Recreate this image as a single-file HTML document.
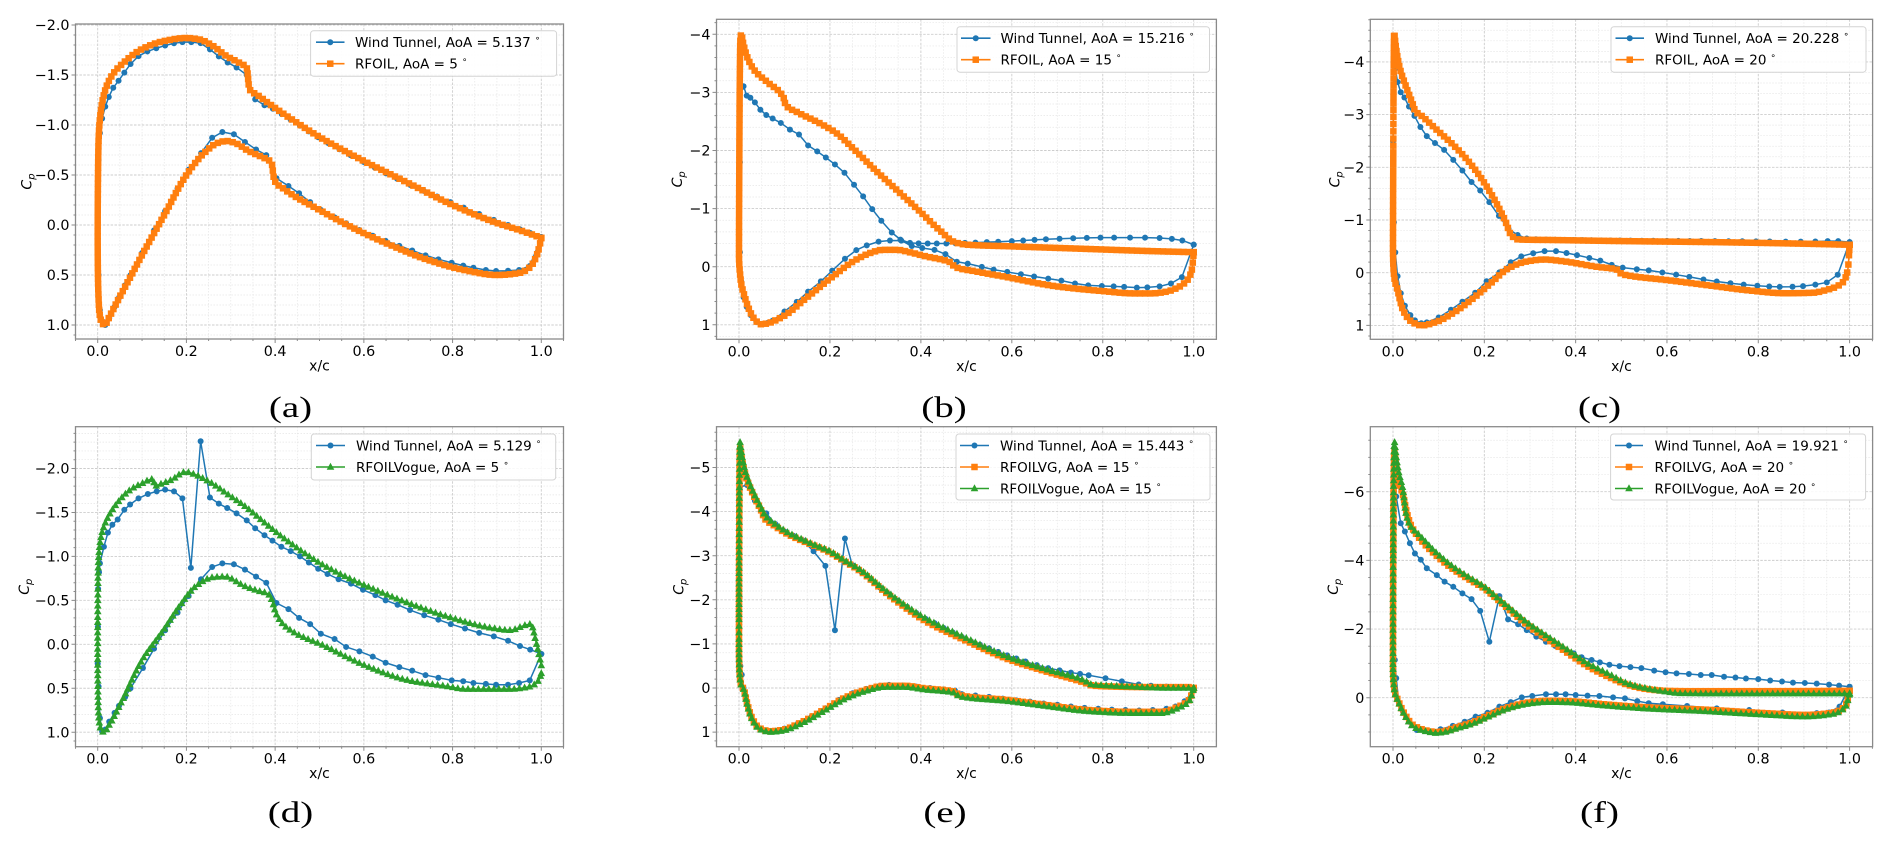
<!DOCTYPE html>
<html><head><meta charset="utf-8">
<style>
html,body{margin:0;padding:0;background:#fff;}
svg{display:block;}
</style></head>
<body>
<svg id="s" width="1892" height="849" viewBox="0 0 1892 849" xmlns="http://www.w3.org/2000/svg"></svg>
<script>
const FAM="'DejaVu Sans','Liberation Sans',sans-serif";
const FS=13.5, TFS=14.3;
const COL={b:'#1f77b4',o:'#ff7f0e',g:'#2ca02c'};
let S='';
const r2=n=>Math.round(n*100)/100;
function txt(x,y,inner,o){o=o||{};
 S+=`<text transform="translate(${r2(x)},${r2(y)})${o.sx?' scale('+o.sx+',1)':''}${o.rot?' rotate('+o.rot+')':''}" font-family="${o.fam||FAM}" font-size="${o.size||FS}" text-anchor="${o.anchor||'start'}" fill="#000">${inner}</text>`;}
function endSlope(h0,h1,d0,d1){let m=((2*h0+h1)*d0-h0*d1)/(h0+h1);
 if(Math.sign(m)!=Math.sign(d0)) m=0; else if(Math.sign(d0)!=Math.sign(d1)&&Math.abs(m)>Math.abs(3*d0)) m=3*d0; return m;}
function pchip(xs,ys){const n=xs.length,h=[],d=[];
 for(let i=0;i<n-1;i++){h[i]=xs[i+1]-xs[i];d[i]=(ys[i+1]-ys[i])/h[i];}
 const m=new Array(n).fill(0);
 for(let i=1;i<n-1;i++){ if(d[i-1]*d[i]<=0) m[i]=0; else {const w1=2*h[i]+h[i-1],w2=h[i]+2*h[i-1]; m[i]=(w1+w2)/(w1/d[i-1]+w2/d[i]);} }
 m[0]=endSlope(h[0],h[1],d[0],d[1]); m[n-1]=endSlope(h[n-2],h[n-3],d[n-2],d[n-3]);
 return function(x){ if(x<=xs[0]) return ys[0]; if(x>=xs[n-1]) return ys[n-1];
  let lo=0,hi=n-1; while(hi-lo>1){const mid=(lo+hi)>>1; if(xs[mid]<=x) lo=mid; else hi=mid;}
  const t=(x-xs[lo])/h[lo],t2=t*t,t3=t2*t;
  return (2*t3-3*t2+1)*ys[lo]+(t3-2*t2+t)*h[lo]*m[lo]+(-2*t3+3*t2)*ys[lo+1]+(t3-t2)*h[lo]*m[lo+1];};}
function surf(c){return pchip(c.map(p=>Math.sqrt(p[0])),c.map(p=>p[1]));}
function mk(t,x,y){
 if(t=='o') return `<circle cx="${r2(x)}" cy="${r2(y)}" r="3"/>`;
 if(t=='s') return `<rect x="${r2(x-3.25)}" y="${r2(y-3.25)}" width="6.5" height="6.5"/>`;
 return `<path d="M${r2(x)} ${r2(y-4.2)}L${r2(x+3.8)} ${r2(y+2.8)}L${r2(x-3.8)} ${r2(y+2.8)}Z"/>`;}
function resample(pts,D){const res=[pts[0]];let acc=0;
 for(let i=1;i<pts.length;i++){acc+=Math.hypot(pts[i][0]-pts[i-1][0],pts[i][1]-pts[i-1][1]); if(acc>=D){res.push(pts[i]);acc=0;}}
 res.push(pts[pts.length-1]); return res;}
function pathD(p){return 'M'+p.map(q=>r2(q[0])+' '+r2(q[1])).join('L');}
const WU=[0,0.002,0.005,0.01,0.017,0.025,0.035,0.047,0.06,0.074,0.092,0.112,0.132,0.152,0.172,0.191,0.211,0.232,0.253,0.273,0.293,0.313,0.336,0.355,0.376,0.395,0.415,0.435,0.456,0.476,0.497,0.52,0.545,0.57,0.6,0.625,0.65,0.675,0.705,0.735,0.765,0.795,0.825,0.86,0.893,0.925,0.952,0.975,1.0];
const WL=[0.002,0.005,0.01,0.017,0.026,0.038,0.048,0.062,0.074,0.1,0.127,0.152,0.18,0.205,0.233,0.258,0.281,0.307,0.332,0.357,0.38,0.403,0.43,0.454,0.479,0.503,0.534,0.56,0.59,0.62,0.649,0.68,0.709,0.739,0.768,0.798,0.824,0.847,0.875,0.898,0.925,0.95,0.974,1.0];
function drawRF(P,s){const fu=surf(s.U),fl=surf(s.L),N=3000,pts=[];
 for(let i=N;i>=0;i--){const u=i/N;pts.push([P.X(u*u),P.Y(fu(u))]);}
 for(let i=1;i<=N;i++){const u=i/N;pts.push([P.X(u*u),P.Y(fl(u))]);}
 const line=resample(pts,1.5), mks=resample(pts,5);
 S+=`<path d="${pathD(line)}" stroke="${COL[s.c]}" stroke-width="1.6" fill="none" stroke-linejoin="round"/>`;
 S+=`<g fill="${COL[s.c]}">${mks.map(p=>mk(s.m,p[0],p[1])).join('')}</g>`;}
function drawWT(P,s){let up,lo;
 if(s.explicit){up=s.U;lo=s.L;}
 else{const fu=surf(s.U),fl=surf(s.L);up=WU.map(x=>[x,fu(Math.sqrt(x))]);lo=WL.map(x=>[x,fl(Math.sqrt(x))]);}
 const pts=up.slice().reverse().concat(lo).map(p=>[P.X(p[0]),P.Y(p[1])]);
 S+=`<path d="${pathD(pts)}" stroke="${COL.b}" stroke-width="1.5" fill="none" stroke-linejoin="round"/>`;
 S+=`<g fill="${COL.b}">${pts.map(p=>mk('o',p[0],p[1])).join('')}</g>`;}
function fmt(v,dec){let s=dec?v.toFixed(1):String(Math.round(v)); if(s=='-0'||s=='-0.0') s=s.slice(1); return s.replace('-','\u2212');}
function legend(Lg){
 S+=`<rect x="${Lg.x}" y="${Lg.y}" width="${Lg.w}" height="${Lg.h}" rx="3" fill="#fff" fill-opacity="0.85" stroke="#d4d4d4" stroke-width="1"/>`;
 Lg.rows.forEach((r,i)=>{const cy=Lg.y+11.5+21.5*i;
  S+=`<line x1="${Lg.hx0}" y1="${cy}" x2="${Lg.hx1}" y2="${cy}" stroke="${COL[r.c]}" stroke-width="1.6"/>`;
  S+=`<g fill="${COL[r.c]}">${mk(r.m,(Lg.hx0+Lg.hx1)/2,cy)}</g>`;
  txt(Lg.tx,cy+4.9,`${r.t}<tspan font-size="9" dx="4" dy="-6">\u2218</tspan>`);});}
function panel(P,id){
 P.X=x=>P.x0+(P.x1-P.x0)*x; P.Y=c=>P.y0+P.ky*c;
 const cTop=(P.T-P.y0)/P.ky,cBot=(P.B-P.y0)/P.ky;
 const isMaj=v=>P.ymaj.some(m=>Math.abs(m-v)<1e-6);
 let g='',G='';
 for(let k=-1;k<=21;k++){const v=k*0.05,px=P.X(v); if(px<P.L||px>P.R) continue; if(k%4==0) G+=`M${r2(px)} ${P.T}V${P.B}`; else g+=`M${r2(px)} ${P.T}V${P.B}`;}
 const st=P.ymin,n0=Math.ceil(cTop/st-1e-6),n1=Math.floor(cBot/st+1e-6);
 for(let k=n0;k<=n1;k++){const v=k*st,py=r2(P.Y(v)); if(isMaj(v)) G+=`M${P.L} ${py}H${P.R}`; else g+=`M${P.L} ${py}H${P.R}`;}
 S+=`<path d="${g}" stroke="#e6e6e6" stroke-width="0.7" stroke-dasharray="1.5,1.5" fill="none"/>`;
 S+=`<path d="${G}" stroke="#cdcdcd" stroke-width="0.9" stroke-dasharray="2.5,1.4" fill="none"/>`;
 S+=`<clipPath id="${id}"><rect x="${P.L}" y="${P.T}" width="${P.R-P.L}" height="${P.B-P.T}"/></clipPath><g clip-path="url(#${id})">`;
 P.series.forEach(s=>{ if(s.wt) drawWT(P,s); else drawRF(P,s); });
 S+='</g>';
 S+=`<rect x="${P.L}" y="${P.T}" width="${P.R-P.L}" height="${P.B-P.T}" fill="none" stroke="#8a8a8a" stroke-width="1.3"/>`;
 let t='';
 for(let k=-1;k<=21;k++){const v=k*0.05,px=P.X(v); if(px<P.L||px>P.R) continue; t+=`M${r2(px)} ${P.B}V${P.B+(k%4==0?4:2)}`;}
 for(let k=n0;k<=n1;k++){const v=k*st,py=r2(P.Y(v)); t+=`M${P.L} ${py}H${P.L-(isMaj(v)?4:2)}`;}
 S+=`<path d="${t}" stroke="#8a8a8a" stroke-width="1" fill="none"/>`;
 P.ymaj.forEach(v=>txt(P.L-6,P.Y(v)+5.1,fmt(v,P.dec),{anchor:'end',size:TFS}));
 [0,0.2,0.4,0.6,0.8,1.0].forEach(v=>txt(P.X(v),P.B+17,v.toFixed(1),{anchor:'middle',size:TFS}));
 txt((P.L+P.R)/2,P.B+31.5,'x/c',{anchor:'middle',size:14});
 txt(P.ylabX+4.5,(P.T+P.B)/2,`<tspan font-style="italic">C</tspan><tspan font-style="italic" font-size="10" dy="3">p</tspan>`,{anchor:'middle',rot:-90,size:14});
 legend(P.leg);
 txt(P.capX,P.capY,P.cap,{anchor:'middle',size:30,sx:1.3,fam:"'Liberation Serif',serif"});
}
// ---------- DATA ----------
const A={L:75.5,T:24,R:563.5,B:339,x0:97.7,x1:541.3,y0:225,ky:100,ymaj:[-2,-1.5,-1,-0.5,0,0.5,1],ymin:0.1,dec:1,ylabX:27,cap:'(a)',capX:290.5,capY:417,
 leg:{x:310.6,y:30.7,w:246,h:45.5,hx0:316,hx1:344.5,tx:355,rows:[{c:'b',m:'o',t:'Wind Tunnel, AoA = 5.137'},{c:'o',m:'s',t:'RFOIL, AoA = 5'}]},
 series:[
 {wt:1,U:[[0,0.2],[0.002,-0.65],[0.005,-0.92],[0.013,-1.12],[0.025,-1.28],[0.036,-1.38],[0.045,-1.43],[0.061,-1.53],[0.089,-1.68],[0.134,-1.77],[0.198,-1.83],[0.23,-1.82],[0.255,-1.75],[0.275,-1.68],[0.295,-1.62],[0.315,-1.57],[0.336,-1.5],[0.35,-1.28],[0.4,-1.15],[0.45,-1.01],[0.5,-0.87],[0.6,-0.63],[0.7,-0.41],[0.8,-0.22],[0.9,-0.04],[0.95,0.04],[1.0,0.12]],
  L:[[0,0.2],[0.002,0.5],[0.005,0.85],[0.01,0.96],[0.017,1.0],[0.026,0.93],[0.04,0.8],[0.06,0.62],[0.08,0.45],[0.1,0.28],[0.13,0.03],[0.16,-0.2],[0.2,-0.52],[0.24,-0.76],[0.26,-0.88],[0.28,-0.93],[0.3,-0.92],[0.32,-0.87],[0.35,-0.77],[0.378,-0.71],[0.4,-0.48],[0.42,-0.42],[0.45,-0.33],[0.5,-0.16],[0.55,-0.04],[0.6,0.07],[0.65,0.16],[0.7,0.24],[0.75,0.32],[0.8,0.38],[0.85,0.43],[0.9,0.46],[0.95,0.45],[0.974,0.41],[1.0,0.12]]},
 {c:'o',m:'s',U:[[0,0.1],[0.0005,-0.4],[0.002,-0.85],[0.006,-1.1],[0.015,-1.32],[0.03,-1.48],[0.06,-1.63],[0.1,-1.76],[0.15,-1.84],[0.2,-1.87],[0.23,-1.855],[0.26,-1.79],[0.29,-1.69],[0.32,-1.62],[0.336,-1.57],[0.342,-1.36],[0.36,-1.3],[0.4,-1.17],[0.45,-1.02],[0.5,-0.88],[0.6,-0.64],[0.7,-0.42],[0.8,-0.2],[0.9,-0.02],[0.95,0.05],[1.0,0.13]],
  L:[[0,0.1],[0.001,0.6],[0.004,0.88],[0.01,0.98],[0.016,1.0],[0.025,0.93],[0.04,0.8],[0.07,0.55],[0.1,0.3],[0.15,-0.1],[0.2,-0.5],[0.24,-0.72],[0.27,-0.82],[0.29,-0.84],[0.31,-0.82],[0.34,-0.74],[0.37,-0.68],[0.392,-0.62],[0.398,-0.45],[0.42,-0.36],[0.5,-0.15],[0.585,0.05],[0.665,0.21],[0.745,0.35],[0.826,0.45],[0.9,0.5],[0.95,0.48],[0.975,0.42],[0.99,0.3],[1.0,0.13]]}
 ]};
const B={L:716.5,T:19.3,R:1216.4,B:339.3,x0:739,x1:1193.7,y0:266.7,ky:58.1,ymaj:[-4,-3,-2,-1,0,1],ymin:0.2,dec:0,ylabX:677.5,cap:'(b)',capX:944,capY:417,
 leg:{x:957,y:26.7,w:252.5,h:45.5,hx0:961,hx1:990.5,tx:1000.5,rows:[{c:'b',m:'o',t:'Wind Tunnel, AoA = 15.216'},{c:'o',m:'s',t:'RFOIL, AoA = 15'}]},
 series:[
 {wt:1,U:[[0,-0.75],[0.002,-1.8],[0.004,-2.8],[0.006,-3.21],[0.016,-2.95],[0.023,-2.92],[0.038,-2.8],[0.045,-2.72],[0.06,-2.61],[0.074,-2.55],[0.095,-2.46],[0.112,-2.36],[0.133,-2.27],[0.153,-2.08],[0.173,-1.98],[0.191,-1.88],[0.211,-1.76],[0.234,-1.6],[0.253,-1.41],[0.273,-1.21],[0.293,-0.99],[0.312,-0.8],[0.332,-0.62],[0.354,-0.47],[0.375,-0.41],[0.4,-0.4],[0.45,-0.4],[0.5,-0.41],[0.6,-0.44],[0.7,-0.48],[0.8,-0.5],[0.9,-0.5],[0.95,-0.48],[0.97,-0.46],[1.0,-0.38]],
  L:[[0,-0.75],[0.002,-0.25],[0.004,0.15],[0.008,0.45],[0.015,0.65],[0.025,0.82],[0.035,0.93],[0.048,0.99],[0.062,0.97],[0.08,0.9],[0.1,0.77],[0.128,0.6],[0.152,0.43],[0.179,0.26],[0.206,0.06],[0.232,-0.13],[0.259,-0.29],[0.282,-0.37],[0.306,-0.43],[0.331,-0.45],[0.354,-0.45],[0.37,-0.44],[0.383,-0.34],[0.406,-0.32],[0.43,-0.29],[0.453,-0.22],[0.477,-0.09],[0.505,-0.05],[0.532,0.0],[0.56,0.05],[0.59,0.09],[0.62,0.13],[0.65,0.17],[0.676,0.2],[0.709,0.24],[0.74,0.29],[0.766,0.32],[0.83,0.34],[0.88,0.36],[0.935,0.33],[0.955,0.27],[0.974,0.18],[1.0,-0.38]]},
 {c:'o',m:'s',U:[[0,-0.2],[0.0005,-1.5],[0.0015,-3.0],[0.003,-3.9],[0.005,-4.0],[0.009,-3.85],[0.018,-3.61],[0.033,-3.39],[0.065,-3.16],[0.097,-2.93],[0.103,-2.78],[0.128,-2.66],[0.175,-2.48],[0.214,-2.3],[0.253,-2.02],[0.3,-1.66],[0.347,-1.32],[0.394,-0.98],[0.441,-0.63],[0.475,-0.42],[0.5,-0.38],[0.6,-0.35],[0.75,-0.31],[0.9,-0.27],[1.0,-0.25]],
  L:[[0,-0.2],[0.002,0.1],[0.005,0.3],[0.01,0.45],[0.018,0.65],[0.026,0.8],[0.037,0.93],[0.048,0.99],[0.06,0.98],[0.096,0.86],[0.151,0.52],[0.206,0.17],[0.253,-0.1],[0.29,-0.24],[0.316,-0.29],[0.347,-0.29],[0.38,-0.24],[0.41,-0.18],[0.457,-0.1],[0.466,-0.07],[0.474,0.0],[0.52,0.08],[0.583,0.17],[0.7,0.34],[0.8,0.42],[0.87,0.46],[0.907,0.46],[0.94,0.43],[0.962,0.37],[0.986,0.23],[0.996,0.05],[1.0,-0.25]]}
 ]};
const C={L:1370.3,T:19.3,R:1872.6,B:339.3,x0:1393,x1:1849.6,y0:272.7,ky:52.7,ymaj:[-4,-3,-2,-1,0,1],ymin:0.2,dec:0,ylabX:1335,cap:'(c)',capX:1599.5,capY:417,
 leg:{x:1611,y:26.7,w:255,h:45.5,hx0:1615.5,hx1:1644,tx:1655,rows:[{c:'b',m:'o',t:'Wind Tunnel, AoA = 20.228'},{c:'o',m:'s',t:'RFOIL, AoA = 20'}]},
 series:[
 {wt:1,U:[[0,-2.5],[0.001,-3.2],[0.002,-4.04],[0.008,-3.7],[0.015,-3.46],[0.026,-3.31],[0.037,-3.12],[0.046,-2.99],[0.072,-2.61],[0.092,-2.46],[0.112,-2.33],[0.132,-2.14],[0.151,-1.95],[0.171,-1.73],[0.19,-1.57],[0.21,-1.35],[0.231,-1.09],[0.252,-0.84],[0.272,-0.72],[0.3,-0.64],[0.4,-0.62],[0.5,-0.61],[0.7,-0.6],[0.9,-0.59],[0.97,-0.6],[1.0,-0.58]],
  L:[[0,-2.5],[0.001,-1.3],[0.003,-0.73],[0.006,-0.26],[0.009,0.0],[0.017,0.39],[0.035,0.77],[0.061,0.96],[0.08,0.93],[0.104,0.83],[0.131,0.68],[0.157,0.52],[0.183,0.36],[0.204,0.17],[0.235,-0.02],[0.26,-0.21],[0.284,-0.32],[0.307,-0.37],[0.331,-0.41],[0.354,-0.41],[0.382,-0.37],[0.405,-0.33],[0.43,-0.28],[0.45,-0.24],[0.475,-0.16],[0.5,-0.1],[0.53,-0.07],[0.565,-0.04],[0.6,0.01],[0.65,0.08],[0.687,0.14],[0.73,0.19],[0.773,0.23],[0.82,0.26],[0.853,0.27],[0.89,0.26],[0.922,0.23],[0.948,0.19],[0.97,0.08],[1.0,-0.58]]},
 {c:'o',m:'s',U:[[0,-0.5],[0.0005,-2.0],[0.0012,-3.5],[0.0025,-4.54],[0.006,-4.3],[0.014,-3.91],[0.026,-3.59],[0.037,-3.34],[0.044,-3.18],[0.048,-3.08],[0.065,-2.96],[0.096,-2.71],[0.136,-2.39],[0.175,-2.01],[0.214,-1.51],[0.245,-1.0],[0.26,-0.7],[0.275,-0.63],[0.35,-0.62],[0.5,-0.6],[0.7,-0.58],[0.9,-0.55],[1.0,-0.53]],
  L:[[0,-0.5],[0.001,-0.1],[0.004,0.15],[0.01,0.33],[0.022,0.71],[0.041,0.93],[0.063,1.0],[0.096,0.93],[0.136,0.74],[0.175,0.49],[0.214,0.2],[0.252,-0.08],[0.291,-0.21],[0.331,-0.25],[0.37,-0.22],[0.448,-0.11],[0.49,-0.06],[0.5,0.02],[0.52,0.06],[0.6,0.14],[0.7,0.25],[0.773,0.33],[0.86,0.39],[0.92,0.38],[0.948,0.33],[0.983,0.2],[0.996,-0.05],[1.0,-0.53]]}
 ]};
const D={L:75.5,T:426.7,R:563.5,B:746.7,x0:97.7,x1:541.3,y0:644.3,ky:87.9,ymaj:[-2,-1.5,-1,-0.5,0,0.5,1],ymin:0.1,dec:1,ylabX:24.5,cap:'(d)',capX:290.5,capY:822,
 leg:{x:311.3,y:434,w:244.4,h:46,hx0:316,hx1:345,tx:356,rows:[{c:'b',m:'o',t:'Wind Tunnel, AoA = 5.129'},{c:'g',m:'^',t:'RFOILVogue, AoA = 5'}]},
 series:[
 {wt:1,explicit:1,U:[[0,0.22],[0.0005,-0.2],[0.001,-0.63],[0.003,-0.82],[0.005,-0.92],[0.014,-1.11],[0.023,-1.27],[0.033,-1.36],[0.045,-1.42],[0.06,-1.53],[0.073,-1.59],[0.092,-1.66],[0.113,-1.71],[0.133,-1.74],[0.152,-1.76],[0.172,-1.74],[0.191,-1.66],[0.21,-0.87],[0.232,-2.31],[0.253,-1.67],[0.273,-1.6],[0.292,-1.55],[0.313,-1.49],[0.336,-1.41],[0.355,-1.32],[0.376,-1.24],[0.394,-1.18],[0.414,-1.11],[0.435,-1.06],[0.456,-1.0],[0.476,-0.93],[0.497,-0.86],[0.518,-0.8],[0.543,-0.74],[0.571,-0.69],[0.598,-0.62],[0.626,-0.56],[0.649,-0.5],[0.676,-0.45],[0.704,-0.39],[0.736,-0.33],[0.768,-0.28],[0.796,-0.23],[0.828,-0.18],[0.86,-0.13],[0.893,-0.09],[0.925,-0.04],[0.952,0.02],[0.975,0.06],[1.0,0.11]],
  L:[[0.002,0.48],[0.005,0.84],[0.01,0.99],[0.017,0.97],[0.026,0.88],[0.038,0.78],[0.048,0.7],[0.062,0.6],[0.074,0.5],[0.102,0.27],[0.127,0.05],[0.152,-0.16],[0.18,-0.36],[0.205,-0.55],[0.233,-0.74],[0.258,-0.88],[0.281,-0.92],[0.307,-0.91],[0.332,-0.85],[0.357,-0.77],[0.38,-0.7],[0.403,-0.47],[0.43,-0.4],[0.454,-0.3],[0.479,-0.23],[0.503,-0.12],[0.534,-0.06],[0.56,0.03],[0.59,0.08],[0.62,0.14],[0.649,0.21],[0.68,0.26],[0.709,0.3],[0.739,0.35],[0.768,0.38],[0.798,0.41],[0.824,0.42],[0.847,0.44],[0.875,0.45],[0.898,0.46],[0.925,0.46],[0.95,0.44],[0.974,0.41],[1.0,0.11]]},
 {c:'g',m:'^',U:[[0,0.0],[0.0003,-0.5],[0.001,-0.85],[0.003,-1.05],[0.006,-1.18],[0.014,-1.34],[0.028,-1.49],[0.046,-1.62],[0.074,-1.76],[0.1,-1.83],[0.125,-1.88],[0.129,-1.8],[0.14,-1.82],[0.166,-1.87],[0.198,-1.96],[0.22,-1.93],[0.24,-1.88],[0.258,-1.83],[0.295,-1.7],[0.332,-1.57],[0.377,-1.38],[0.424,-1.19],[0.516,-0.88],[0.607,-0.66],[0.7,-0.47],[0.792,-0.31],[0.883,-0.19],[0.93,-0.16],[0.966,-0.22],[0.977,-0.23],[0.987,-0.05],[1.0,0.24]],
  L:[[0,0.0],[0.0005,0.5],[0.002,0.8],[0.006,0.95],[0.014,1.0],[0.028,0.9],[0.056,0.63],[0.1,0.18],[0.148,-0.16],[0.184,-0.43],[0.221,-0.66],[0.258,-0.76],[0.286,-0.77],[0.332,-0.66],[0.36,-0.61],[0.385,-0.57],[0.393,-0.5],[0.402,-0.35],[0.424,-0.2],[0.516,0.03],[0.607,0.25],[0.7,0.41],[0.79,0.48],[0.83,0.51],[0.929,0.51],[0.975,0.48],[0.994,0.41],[1.0,0.33]]}
 ]};
const E={L:716.5,T:426.7,R:1216.4,B:746.7,x0:739,x1:1193.7,y0:688,ky:44.1,ymaj:[-5,-4,-3,-2,-1,0,1],ymin:0.2,dec:0,ylabX:679,cap:'(e)',capX:945,capY:822,
 leg:{x:956,y:434,w:254,h:66,hx0:960,hx1:989,tx:1000,rows:[{c:'b',m:'o',t:'Wind Tunnel, AoA = 15.443'},{c:'o',m:'s',t:'RFOILVG, AoA = 15'},{c:'g',m:'^',t:'RFOILVogue, AoA = 15'}]},
 series:[
 {wt:1,explicit:1,U:[[0,-0.75],[0.001,-2.05],[0.002,-4.56],[0.018,-4.6],[0.035,-4.25],[0.06,-3.96],[0.08,-3.72],[0.1,-3.55],[0.12,-3.45],[0.14,-3.35],[0.164,-3.1],[0.19,-2.77],[0.211,-1.31],[0.233,-3.39],[0.249,-2.79],[0.27,-2.62],[0.29,-2.45],[0.31,-2.28],[0.33,-2.13],[0.35,-1.98],[0.37,-1.84],[0.39,-1.7],[0.41,-1.57],[0.43,-1.47],[0.45,-1.36],[0.47,-1.26],[0.49,-1.16],[0.51,-1.06],[0.53,-0.98],[0.55,-0.9],[0.57,-0.82],[0.59,-0.74],[0.61,-0.67],[0.63,-0.6],[0.655,-0.52],[0.68,-0.45],[0.705,-0.4],[0.73,-0.35],[0.75,-0.32],[0.769,-0.29],[0.806,-0.22],[0.842,-0.15],[0.879,-0.08],[0.906,-0.05],[0.94,-0.03],[0.97,-0.01],[1.0,0.05]],
  L:[[0.003,-0.5],[0.006,-0.3],[0.01,0.0],[0.015,0.25],[0.025,0.6],[0.04,0.85],[0.06,0.97],[0.08,0.97],[0.1,0.92],[0.13,0.8],[0.16,0.64],[0.19,0.46],[0.22,0.27],[0.25,0.12],[0.28,0.02],[0.31,-0.05],[0.33,-0.07],[0.36,-0.06],[0.39,-0.03],[0.42,0.0],[0.45,0.03],[0.475,0.06],[0.49,0.14],[0.52,0.17],[0.55,0.2],[0.58,0.24],[0.61,0.28],[0.64,0.31],[0.67,0.35],[0.7,0.38],[0.73,0.42],[0.76,0.45],[0.79,0.47],[0.82,0.49],[0.85,0.5],[0.88,0.51],[0.91,0.5],[0.94,0.47],[0.96,0.42],[0.98,0.3],[1.0,0.05]]},
 {c:'o',m:'s',U:[[0,-1.0],[0.0003,-3.0],[0.001,-4.7],[0.002,-5.45],[0.004,-5.35],[0.007,-5.15],[0.015,-4.8],[0.033,-4.35],[0.05,-4.0],[0.056,-3.85],[0.078,-3.68],[0.105,-3.5],[0.141,-3.33],[0.177,-3.18],[0.195,-3.1],[0.231,-2.88],[0.267,-2.65],[0.321,-2.18],[0.365,-1.83],[0.41,-1.52],[0.5,-1.07],[0.59,-0.66],[0.68,-0.36],[0.76,-0.12],[0.775,-0.06],[0.8,-0.04],[0.9,-0.02],[0.99,-0.02],[1.0,0.0]],
  L:[[0,-1.0],[0.001,-0.4],[0.004,-0.1],[0.011,0.05],[0.018,0.35],[0.029,0.69],[0.045,0.91],[0.07,0.98],[0.096,0.95],[0.141,0.76],[0.186,0.5],[0.231,0.23],[0.276,0.05],[0.321,-0.05],[0.365,-0.05],[0.41,0.01],[0.473,0.08],[0.485,0.16],[0.59,0.27],[0.68,0.39],[0.769,0.5],[0.859,0.54],[0.93,0.54],[0.967,0.42],[0.99,0.27],[1.0,0.0]]},
 {c:'g',m:'^',U:[[0,-1.0],[0.0003,-3.0],[0.001,-4.8],[0.002,-5.58],[0.004,-5.45],[0.007,-5.24],[0.015,-4.87],[0.033,-4.41],[0.051,-4.04],[0.056,-3.93],[0.078,-3.73],[0.105,-3.54],[0.141,-3.36],[0.177,-3.2],[0.195,-3.13],[0.231,-2.9],[0.267,-2.68],[0.321,-2.22],[0.365,-1.88],[0.41,-1.58],[0.5,-1.13],[0.59,-0.71],[0.68,-0.41],[0.76,-0.17],[0.775,-0.08],[0.8,-0.06],[0.86,-0.03],[0.95,0.0],[1.0,0.0]],
  L:[[0,-1.0],[0.001,-0.4],[0.004,-0.1],[0.011,0.05],[0.018,0.37],[0.029,0.71],[0.045,0.93],[0.07,1.0],[0.096,0.97],[0.141,0.79],[0.186,0.53],[0.231,0.26],[0.276,0.08],[0.321,-0.02],[0.365,-0.02],[0.41,0.04],[0.473,0.11],[0.485,0.19],[0.59,0.3],[0.68,0.42],[0.769,0.53],[0.859,0.57],[0.93,0.57],[0.967,0.45],[0.99,0.3],[1.0,0.0]]}
 ]};
const F={L:1370.3,T:426.7,R:1872.6,B:746.7,x0:1393,x1:1849.6,y0:697.7,ky:34.33,ymaj:[-6,-4,-2,0],ymin:0.5,dec:0,ylabX:1333.5,cap:'(f)',capX:1599.5,capY:822,
 leg:{x:1610.6,y:434,w:255,h:66,hx0:1615,hx1:1643,tx:1654.5,rows:[{c:'b',m:'o',t:'Wind Tunnel, AoA = 19.921'},{c:'o',m:'s',t:'RFOILVG, AoA = 20'},{c:'g',m:'^',t:'RFOILVogue, AoA = 20'}]},
 series:[
 {wt:1,explicit:1,U:[[0,-1.75],[0.001,-2.6],[0.002,-6.0],[0.007,-5.86],[0.017,-5.08],[0.026,-4.84],[0.037,-4.5],[0.048,-4.2],[0.061,-4.02],[0.074,-3.77],[0.096,-3.57],[0.113,-3.38],[0.132,-3.23],[0.152,-3.04],[0.172,-2.87],[0.191,-2.53],[0.211,-1.63],[0.233,-2.96],[0.252,-2.28],[0.274,-2.14],[0.293,-1.97],[0.314,-1.78],[0.335,-1.63],[0.355,-1.51],[0.374,-1.41],[0.396,-1.29],[0.413,-1.18],[0.435,-1.1],[0.453,-1.03],[0.474,-0.96],[0.496,-0.92],[0.52,-0.89],[0.544,-0.86],[0.572,-0.79],[0.597,-0.74],[0.621,-0.71],[0.648,-0.69],[0.674,-0.66],[0.698,-0.66],[0.725,-0.61],[0.75,-0.59],[0.773,-0.56],[0.8,-0.54],[0.826,-0.5],[0.852,-0.47],[0.876,-0.44],[0.902,-0.43],[0.928,-0.41],[0.955,-0.38],[0.977,-0.35],[1.0,-0.32]],
  L:[[0.004,-1.1],[0.007,-0.57],[0.013,0.16],[0.022,0.41],[0.035,0.7],[0.052,0.94],[0.078,0.99],[0.104,0.92],[0.131,0.82],[0.157,0.7],[0.181,0.55],[0.207,0.44],[0.233,0.26],[0.258,0.13],[0.282,-0.01],[0.305,-0.05],[0.335,-0.1],[0.357,-0.1],[0.378,-0.1],[0.4,-0.08],[0.426,-0.06],[0.452,-0.05],[0.482,-0.01],[0.508,0.02],[0.535,0.1],[0.56,0.16],[0.591,0.19],[0.644,0.24],[0.709,0.31],[0.78,0.36],[0.853,0.43],[0.928,0.45],[0.955,0.43],[0.978,0.26],[1.0,-0.32]]},
 {c:'o',m:'s',U:[[0,-1.0],[0.0005,-4.0],[0.0015,-6.3],[0.003,-7.2],[0.007,-6.8],[0.013,-6.3],[0.022,-5.9],[0.03,-5.4],[0.04,-5.0],[0.061,-4.6],[0.096,-4.13],[0.131,-3.75],[0.165,-3.46],[0.2,-3.18],[0.226,-2.9],[0.252,-2.6],[0.296,-2.1],[0.339,-1.7],[0.383,-1.3],[0.426,-0.92],[0.47,-0.62],[0.513,-0.38],[0.556,-0.25],[0.6,-0.2],[0.65,-0.19],[0.8,-0.19],[1.0,-0.2]],
  L:[[0,-1.0],[0.001,-0.5],[0.005,-0.1],[0.01,0.05],[0.026,0.49],[0.044,0.8],[0.078,0.97],[0.095,1.0],[0.11,0.98],[0.139,0.86],[0.174,0.72],[0.208,0.52],[0.252,0.28],[0.296,0.14],[0.339,0.09],[0.383,0.1],[0.47,0.2],[0.556,0.28],[0.687,0.35],[0.817,0.45],[0.904,0.5],[0.965,0.43],[0.99,0.25],[1.0,-0.2]]},
 {c:'g',m:'^',U:[[0,-1.0],[0.0005,-4.0],[0.0015,-6.5],[0.003,-7.46],[0.007,-7.02],[0.013,-6.54],[0.022,-6.05],[0.025,-5.7],[0.028,-5.4],[0.035,-5.08],[0.061,-4.69],[0.096,-4.21],[0.131,-3.82],[0.165,-3.52],[0.2,-3.23],[0.226,-2.94],[0.252,-2.65],[0.296,-2.17],[0.339,-1.78],[0.383,-1.39],[0.426,-1.0],[0.47,-0.71],[0.513,-0.42],[0.556,-0.27],[0.6,-0.17],[0.626,-0.13],[0.7,-0.12],[0.9,-0.12],[1.0,-0.12]],
  L:[[0,-1.0],[0.001,-0.5],[0.005,-0.1],[0.01,0.06],[0.026,0.52],[0.044,0.84],[0.078,1.0],[0.095,1.03],[0.11,1.01],[0.139,0.9],[0.174,0.76],[0.208,0.56],[0.252,0.32],[0.296,0.18],[0.339,0.13],[0.383,0.14],[0.47,0.24],[0.556,0.32],[0.687,0.4],[0.817,0.5],[0.904,0.55],[0.965,0.47],[0.99,0.28],[1.0,-0.12]]}
 ]};
[A,B,C,D,E,F].forEach((P,i)=>panel(P,'clp'+i));
document.getElementById('s').innerHTML=S;
</script>
</body></html>
